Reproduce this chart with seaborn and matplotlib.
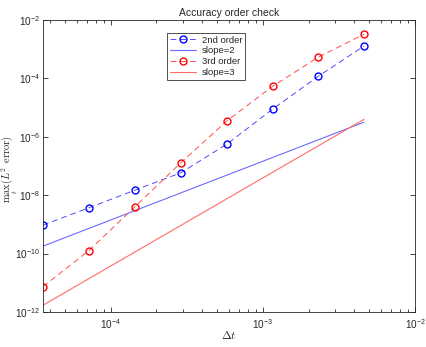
import numpy as np
import pandas as pd
import matplotlib
matplotlib.use("Agg")
import matplotlib.pyplot as plt
import seaborn as sns

# time steps (halved each refinement)
dt = [3.6e-5, 7.2e-5, 1.45e-4, 2.9e-4, 5.8e-4, 1.16e-3, 2.32e-3, 4.63e-3]

# max-in-time L2 errors
err_2nd = [9.5e-10, 3.7e-9, 1.5e-8, 5.9e-8, 5.6e-7, 8.9e-6, 1.2e-4, 1.3e-3]
err_3rd = [7.4e-12, 1.26e-10, 4.1e-9, 1.3e-7, 3.5e-6, 5.4e-5, 5.4e-4, 3.3e-3]

# reference slope lines (endpoints only)
ref_dt = [3.6e-5, 4.63e-3]
ref_slope2 = [1.8e-10, 3.2e-6]
ref_slope3 = [1.7e-12, 4.0e-6]

sns.set_theme(style="ticks")
plt.rcParams["font.family"] = ["Liberation Sans", "DejaVu Sans"]
plt.rcParams["xtick.direction"] = "in"
plt.rcParams["ytick.direction"] = "in"

df = pd.DataFrame({"dt": dt, "e2": err_2nd, "e3": err_3rd})
ref = pd.DataFrame({"dt": ref_dt, "s2": ref_slope2, "s3": ref_slope3})

fig = plt.figure(figsize=(4.27, 3.47), dpi=100)
ax = fig.add_axes([0.1007, 0.101, 0.8713, 0.841])

line_kw = dict(linewidth=0.7, markersize=5, markerfacecolor="none", markeredgewidth=1.0)
sns.lineplot(data=df, x="dt", y="e2", ax=ax, color="#4d4dff", linestyle=(0, (6, 4)),
             marker="o", markeredgecolor="#0000ff", label="2nd order", **line_kw)
sns.lineplot(data=ref, x="dt", y="s2", ax=ax, color="#6b6bff", linewidth=0.8, label="slope=2")
sns.lineplot(data=df, x="dt", y="e3", ax=ax, color="#ff4d4d", linestyle=(0, (6, 4)),
             marker="o", markeredgecolor="#ff0000", label="3rd order", **line_kw)
sns.lineplot(data=ref, x="dt", y="s3", ax=ax, color="#ff6b6b", linewidth=0.8, label="slope=3")

ax.set_xscale("log")
ax.set_yscale("log")
ax.set_xlim(3.6e-5, 1e-2)
ax.set_ylim(1e-12, 1e-2)
ax.set_yticks([1e-12, 1e-10, 1e-8, 1e-6, 1e-4, 1e-2])
ax.set_xticks([1e-4, 1e-3, 1e-2])

ax.tick_params(which="both", top=True, right=True, labelsize=7.2, width=0.6, colors="#262626")
ax.tick_params(which="major", length=3.5)
ax.tick_params(which="minor", length=2)
ax.tick_params(axis="y", pad=2.5)
for s in ax.spines.values():
    s.set_linewidth(0.6)
    s.set_color("#262626")

ax.set_title("Accuracy order check", fontsize=7.5, pad=3)
ax.set_xlabel(r"$\Delta t$", fontsize=8.5, math_fontfamily="cm")
ax.set_ylabel(r"$\max_t(L^2\ \mathrm{error})$", fontsize=7.5, math_fontfamily="cm",
              va="center", ha="center")
ax.xaxis.set_label_coords(0.5, -0.062)
ax.yaxis.set_label_coords(-0.088, 0.49)

leg = ax.legend(loc="upper left", bbox_to_anchor=(0.333, 0.957), fontsize=6.8,
                fancybox=False, framealpha=1, edgecolor="#333333", borderpad=0.3,
                labelspacing=0.2, handlelength=2.8, handletextpad=0.6, borderaxespad=0)
leg.get_frame().set_linewidth(0.6)

fig.savefig("out.png", dpi=100)
